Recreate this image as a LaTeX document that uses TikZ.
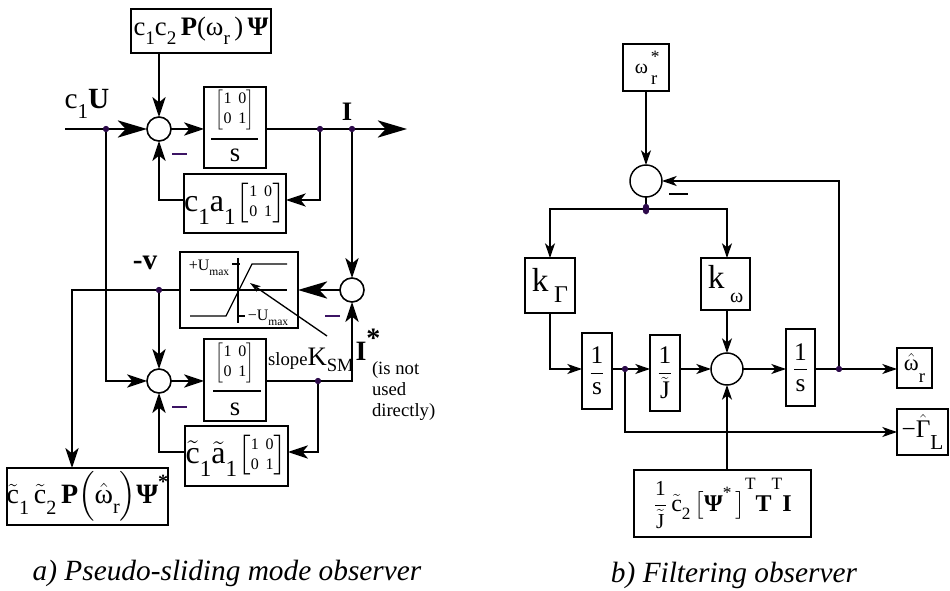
\documentclass[tikz,border=0pt]{standalone}
\usepackage{amsmath}
\usepackage{graphicx}
\usepackage{fontspec}
\setmainfont{Liberation Serif}
\usetikzlibrary{arrows.meta,calc,shapes.geometric}
\definecolor{dotc}{RGB}{45,10,75}
\definecolor{minc}{RGB}{60,20,100}
\newcommand\fs[1]{\fontsize{#1}{#1}\selectfont}
\newcommand\dn[2][0.35em]{\raisebox{-#1}{\scalebox{0.72}{#2}}}
\newcommand\up[2][0.55em]{\raisebox{#1}{\scalebox{0.72}{#2}}}
\newcommand\tl[1]{$\tilde{\mbox{#1}}$}
\newcommand\hh[1]{$\hat{\mbox{#1}}$}
\newcommand\idm{$\left[\vcenter{\hbox{\fontsize{12}{15}\selectfont\begin{tabular}{@{}c@{\hspace{5pt}}c@{}}1&0\\0&1\end{tabular}}}\right]$}
\newcommand\ffrac[2]{$\genfrac{}{}{0.8pt}{0}{\mbox{#1}}{\mbox{#2}}$}
\begin{document}
\begin{tikzpicture}[x=0.75pt,y=-0.75pt,
  every node/.style={inner sep=0pt,outer sep=0pt},
  sz/.style 2 args={minimum width={#1*0.75pt},minimum height={#2*0.75pt}},
  box/.style={draw,line width=1.4pt,rectangle},
  rbox/.style={draw,line width=1.1pt,rectangle},
  sum/.style={draw,line width=1.2pt,circle,minimum size=18pt},
  rsum/.style={draw,line width=1.1pt,circle,minimum size=24pt},
  dot/.style={circle,fill=dotc,minimum size=4.5pt},
  rdot/.style={ellipse,fill=dotc,minimum width=5pt,minimum height=8pt},
  conn/.style={line width=1pt},
  med/.style={conn,-{Stealth[length=15pt,width=10pt,inset=4pt]}},
  big/.style={conn,-{Stealth[length=22pt,width=13pt,inset=6pt]}},
  sm/.style={conn,-{Stealth[length=11pt,width=7.5pt,inset=3pt]}},
  minus/.style={line width=1.3pt,minc},
]
\useasboundingbox (0,0) rectangle (950,591);
\fill[white] (0,0) rectangle (950,591);
% ---------------- left diagram ----------------
\coordinate (in) at (65,129);
\coordinate (out) at (407,129);
\coordinate (y200) at (0,200);
\coordinate (y452) at (0,452);
\coordinate (vx) at (72,0);
\node[box,sz={140}{44}] (t1) at (201,31) {\fs{20}c\dn{1}c\dn{2}\,\textbf{P}(ω\dn{r}\,)\,\textbf{Ψ}};
\node[sum] (C1) at (159,129) {};
\node[sum] (C2) at (159,381) {};
\node[sum] (C3) at (352,290) {};
\node[box,sz={62}{81}] (b1) at (235,127.5) {};
\node (b1m) at (235,110) {\idm};
\node (b1s) at (235,155) {\fs{20}s};
\draw[line width=1.2pt] (211,139) -- (258,139);
\node[box,sz={94}{59}] (ca) at (235,203.5) {\fs{24}c\dn[0.4em]{1}a\dn[0.4em]{1}\idm};
\node[box,sz={118}{76}] (S) at (239,290) {};
\node[box,sz={62}{82}] (b2) at (235,380) {};
\node (b2m) at (235,363) {\idm};
\node (b2s) at (235,409) {\fs{20}s};
\draw[line width=1.2pt] (213,391) -- (261,391);
\node[box,sz={103}{60}] (cta) at (236.5,456) {\fs{24}\tl{c}\dn[0.4em]{1}\tl{a}\dn[0.4em]{1}\idm};
\node[box,sz={157}{57}] (B) at (87.5,496.5) {\fs{21}\tl{c}\dn[0.4em]{1}\,\tl{c}\dn[0.4em]{2}\,\textbf{P}$\Bigl($\hh{ω}\dn{r}$\Bigr)$\textbf{Ψ}\up{\textbf{*}}};
% saturation internals
\draw[conn] (190,290) -- (287,290);
\draw[conn] (238,258) -- (238,323);
\draw[conn] (190,316) -- (226,316) -- (252,264) -- (287,264);
\draw[conn] (232,264) -- (240,264);
\draw[conn] (238,316) -- (245,316);
\node (lpu) at (209,268) {\fs{12}+U\dn{max}};
\node (lmu) at (268,318) {\fs{12}−U\dn{max}};
\coordinate (sp0) at (327,336);
\coordinate (sp1) at (250,283);
\draw[conn,-{Stealth[length=8pt,width=5pt,inset=2pt]}] (sp0) -- (sp1);
% dots
\node[dot] (d1) at (106,129) {};
\node[dot] (d2) at (320,129) {};
\node[dot] (d3) at (352,129) {};
\node[dot] (d4) at (159,290) {};
\node[dot] (d5) at (318,381) {};
% connectors
\draw[big] (in) -- (C1.west);
\draw[med] (t1.south -| C1) -- (C1.north);
\draw[med] (C1.east) -- (C1.east -| b1.west);
\draw[big] (b1.east |- C1) -- (out);
\draw[med] (d2) |- (ca.east |- y200);
\draw[med] (ca.west |- y200) -| (C1.south);
\draw[med] (d3) -- (C3.north);
\draw[big] (C3.west) -- (S.east);
\draw[med] (S.west) -| (vx |- B.north);
\draw[med] (d4) -- (C2.north);
\draw[med] (d1) |- (C2.west);
\draw[med] (C2.east) -- (C2.east -| b2.west);
\draw[med] (C2.east -| b2.east) -| (C3.south);
\draw[med] (d5) |- (cta.east |- y452);
\draw[med] (cta.west |- y452) -| (C2.south);
\node[dot] at (d1) {};
\node[dot] at (d2) {};
\node[dot] at (d3) {};
\node[dot] at (d4) {};
\node[dot] at (d5) {};
% minus signs
\draw[minus] (172,154) -- (187,154);
\draw[minus] (172,407) -- (187,407);
\draw[minus] (325,316) -- (340,316);
% labels
\node (lU) at (87,104) {\fs{22}c\dn{1}\textbf{U}};
\node (lI) at (347,112) {\fs{20}\textbf{I}};
\node (lv) at (145,263) {\fs{22}\textbf{-v}};
\node (lIs) at (368,345) {\fs{21}\textbf{I}\raisebox{0.45em}{\textbf{*}}};
\node (lsl) at (311,360) {{\fs{14}slope}{\fs{20}K}\raisebox{-0.4em}{\fs{14}SM}};
\node[align=left,anchor=north west,font=\fontsize{14}{15.75}\selectfont] (lnote) at (372,362) {(is not\\used\\directly)};
\node (capa) at (227,573) {\fs{22}\itshape a) Pseudo-sliding mode observer};
% ---------------- right diagram ----------------
\node[rbox,sz={46}{47}] (w) at (646,67.5) {\fs{15}ω\rlap{\raisebox{0.55em}{\fs{13}\,*}}\raisebox{-0.55em}{\fs{14}\,r}};
\node[rsum] (R1) at (646,181) {};
\node[rbox,sz={50}{55}] (kG) at (550,285.5) {\fs{25}k\,\raisebox{-0.35em}{\fs{18}Γ}};
\node[rbox,sz={49}{52}] (kw) at (725.5,284) {\fs{25}k\,\raisebox{-0.4em}{\fs{15}ω}};
\node[rbox,sz={30}{76}] (s1) at (597,371) {\fs{19}\ffrac{1}{s}};
\node[rbox,sz={30}{76}] (jb) at (665,373) {\fs{19}\ffrac{1}{\tl{J}}};
\node[rsum] (R2) at (727,369) {};
\node[rbox,sz={29}{77}] (s2) at (800.5,367.5) {\fs{19}\ffrac{1}{s}};
\node[rbox,sz={35}{40}] (wo) at (914.5,368) {\fs{17}\hh{ω}\raisebox{-0.55em}{\fs{14}r}};
\node[rbox,sz={51}{46}] (gl) at (922.5,432) {\fs{19}−\hh{Γ}\raisebox{-0.5em}{\fs{16}L}};
\node[rbox,sz={177}{67}] (bb) at (722.5,503.5) {\fs{18}{\fs{16}\ffrac{1}{\tl{J}}}\,\tl{c}\dn{2}\,$\bigl[$\textbf{Ψ}\up{*}\,$\bigr]$\up[0.9em]{T}\textbf{T}\up[0.9em]{T}\textbf{I}};
\node[rdot] (Rd1) at (646,209) {};
\node[dot] (Rd2) at (839,369) {};
\node[dot] (Rd3) at (625,369) {};
\draw[sm] (w.south) -- (R1.north);
\draw[conn] (R1.south) -- (Rd1);
\draw[sm] (Rd1) -| (kG.north);
\draw[sm] (Rd1) -| (R2 |- kw.north);
\draw[sm] (kG.south) |- (s1.west |- R2);
\draw[conn] (s1.east |- R2) -- (Rd3);
\draw[sm] (Rd3) -- (jb.west |- R2);
\draw[sm] (jb.east |- R2) -- (R2.west);
\draw[sm] (R2 |- kw.south) -- (R2.north);
\draw[sm] (R2 |- bb.north) -- (R2.south);
\draw[sm] (R2.east) -- (s2.west |- R2);
\draw[sm] (s2.east |- R2) -- (wo.west |- R2);
\draw[sm] (Rd2) |- (R1.east);
\draw[sm] (Rd3) |- (gl.west);
\node[rdot] at (Rd1) {};
\node[dot] at (Rd2) {};
\node[dot] at (Rd3) {};
\draw[line width=1pt] (669,194) -- (688,194);
\node (capb) at (734,575) {\fs{22}\itshape b) Filtering observer};
\end{tikzpicture}
\end{document}
